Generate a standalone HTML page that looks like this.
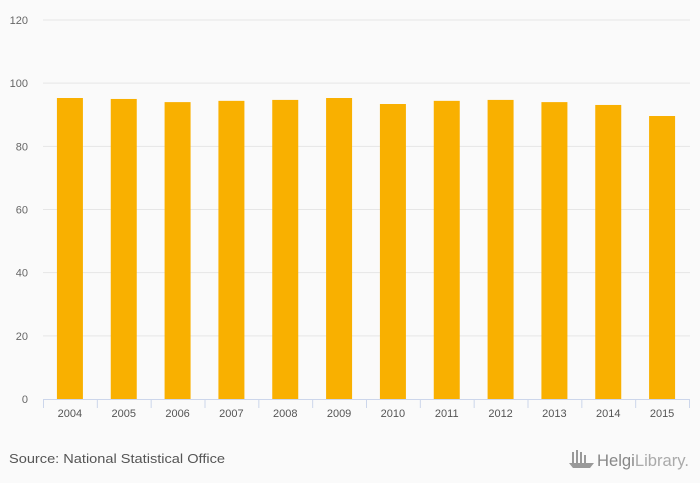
<!DOCTYPE html>
<html><head><meta charset="utf-8"><style>
body{margin:0;background:#fafafa;font-family:"Liberation Sans",sans-serif}
svg{display:block}
</style></head><body>
<svg width="700" height="483" id="c">
<rect width="700" height="483" fill="#fafafa"/>
<g id="grid"></g><g id="bars"></g><g id="xaxis"></g>
<text x="9" y="463" font-size="13" fill="#555" textLength="216" lengthAdjust="spacingAndGlyphs">Source: National Statistical Office</text>
<g fill="#999">
<rect x="572" y="452" width="2" height="12"/><rect x="576" y="450" width="2" height="14"/><rect x="580" y="452" width="2" height="12"/><rect x="584" y="455" width="2" height="9"/>
<path d="M569 463 L594 463 L590 468 L573 468 Z"/>
<text x="597" y="466" font-size="17" fill="#888" textLength="92" lengthAdjust="spacingAndGlyphs"><tspan>Helgi</tspan><tspan fill="#aaa">Library.</tspan></text>
</g>
</svg>
<script>
const categories=["2004","2005","2006","2007","2008","2009","2010","2011","2012","2013","2014","2015"];
const values=[95.3,95.0,94.0,94.4,94.7,95.3,93.4,94.4,94.7,94.0,93.1,89.6];
const yTicks=[0,20,40,60,80,100,120];
const NS="http://www.w3.org/2000/svg";
const L=43,R=689,T=20,B=399,yMax=120;
const y=v=>B-(v/yMax)*(B-T);
const bw=(R-L)/categories.length;
const x=i=>L+bw*i;
function mk(t,a,p){const e=document.createElementNS(NS,t);for(const k in a)e.setAttribute(k,a[k]);p.appendChild(e);return e;}
const g=document.getElementById('grid');
yTicks.forEach(t=>{
 if(t>0){const l=mk('line',{x1:L,x2:R+1,y1:y(t),y2:y(t),stroke:'#e6e6e6','stroke-width':1},g);
 
 }
 const tx=mk('text',{x:28,y:y(t)+4,'font-size':11,fill:'#666','text-anchor':'end'},g);
 tx.textContent=t;
 
 
});
const bg=document.getElementById('bars');
values.forEach((v,i)=>{
 const r=mk('rect',{x:x(i)+bw/2-13,y:y(v),width:26,height:B-y(v),fill:'#f9b000'},bg);
 
 
});
const xa=document.getElementById('xaxis');
const al=mk('line',{x1:L,x2:R+1,y1:B+0.5,y2:B+0.5,stroke:'#ccd6eb'},xa);


for(let i=0;i<=categories.length;i++){
 const tk=mk('line',{x1:x(i)+0.5,x2:x(i)+0.5,y1:B,y2:B+9,stroke:'#ccd6eb'},xa);
 
 
}
categories.forEach((c,i)=>{
 const t=mk('text',{x:x(i)+bw/2,y:417,'font-size':11,fill:'#555','text-anchor':'middle'},xa);
 t.textContent=c;
 
 
});
</script>
</body></html>
